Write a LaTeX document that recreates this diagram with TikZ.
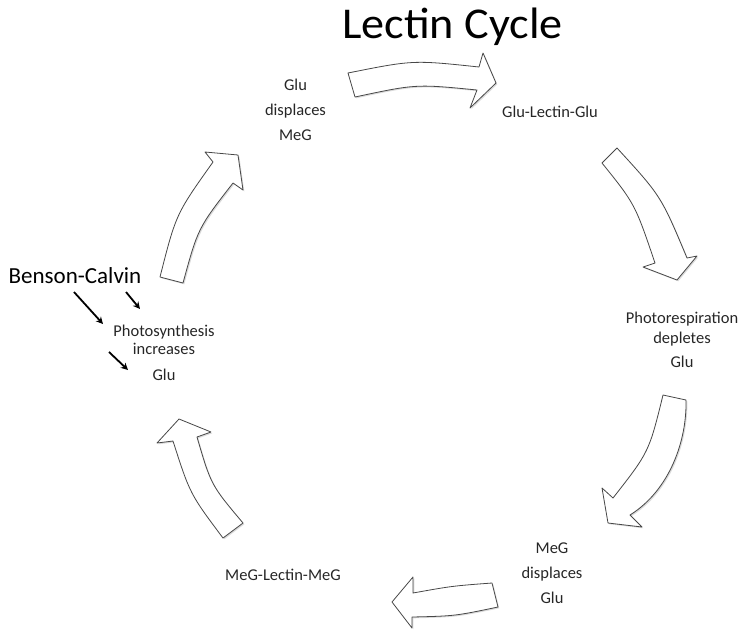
\documentclass[tikz,border=0pt]{standalone}
\usepackage{fontspec}
\setmainfont{Carlito}
\newfontfamily\titlefont[FakeStretch=1.05]{Carlito}
\usetikzlibrary{arrows.meta}
\tikzset{
  blockarrow/.style={draw=black!72, fill=white, line width=0.8pt, line join=round,
    preaction={fill=black!14, transform canvas={xshift=1.3pt,yshift=-1.3pt}}},
  lbl/.style={anchor=base, inner sep=0pt, text=black!85, font=\fontsize{16.5}{19}\selectfont},
  bigarrow/.style={line width=1.8pt, -{Stealth[length=7pt,width=7pt]}}
}
\begin{document}
\begin{tikzpicture}[x=1pt,y=-1pt]
\useasboundingbox (0,0) rectangle (739,633);

% title
\node[anchor=base, inner sep=0pt, font=\titlefont\fontsize{44}{48}\selectfont] (title) at (452.5,38) {Lectin Cycle};

% stage labels
\node[lbl] (gd1) at (295.5,90) {Glu};
\node[lbl] (gd2) at (295.5,115) {displaces};
\node[lbl] (gd3) at (295.5,140) {MeG};

\node[lbl] (glg) at (550,117) {Glu-Lectin-Glu};

\node[lbl] (pr1) at (682,323) {Photorespiration};
\node[lbl] (pr2) at (682,343) {depletes};
\node[lbl] (pr3) at (682,367) {Glu};

\node[lbl] (md1) at (552,553) {MeG};
\node[lbl] (md2) at (552,578) {displaces};
\node[lbl] (md3) at (552,603) {Glu};

\node[lbl] (mlm) at (283,580) {MeG-Lectin-MeG};

\node[lbl] (ps1) at (164,336) {Photosynthesis};
\node[lbl] (ps2) at (164,354) {increases};
\node[lbl] (ps3) at (164,380) {Glu};

\node[anchor=base, inner sep=0pt, font=\fontsize{23}{26}\selectfont] (bc) at (75,283) {Benson-Calvin};

% small black arrows
\coordinate (a1s) at (74,292);  \coordinate (a1e) at (103,324);
\coordinate (a2s) at (126,292); \coordinate (a2e) at (140,309);
\coordinate (a3s) at (109,352); \coordinate (a3e) at (128,370);
\draw[bigarrow] (a1s) -- (a1e);
\draw[bigarrow] (a2s) -- (a2e);
\draw[bigarrow] (a3s) -- (a3e);

% block arrows of the cycle
% 1: top, towards Glu-Lectin-Glu
\path[blockarrow] (348,73) .. controls (413,60) .. (479,67) -- (483,53) -- (496,83) -- (470,108) -- (477,90)
  .. controls (416,84) .. (355,97) -- cycle;
% 2: upper right, towards Photorespiration
\path[blockarrow] (617,148) .. controls (661,196) .. (687,258) -- (697,256) -- (677,280) -- (643,267) -- (655,263)
  .. controls (635,204) .. (602,163) -- cycle;
% 3: lower right, towards MeG displaces Glu
\path[blockarrow] (686,400) .. controls (687,440) and (670,490) .. (630,515) -- (642,527) -- (608,523) -- (602,488) -- (613,498)
  .. controls (649,452) .. (663,395) -- cycle;
% 4: bottom, towards MeG-Lectin-MeG
\path[blockarrow] (492,583) .. controls (452,586) .. (413,593) -- (413,577) -- (392,602) -- (412,628) -- (412,617)
  .. controls (455,616) .. (498,607) -- cycle;
% 5: lower left, towards Photosynthesis
\path[blockarrow] (243,523) .. controls (211,485) .. (197,437) -- (211,432) -- (179,419) -- (157,443) -- (173,441)
  .. controls (190,494) .. (223,538) -- cycle;
% 6: upper left, towards Glu displaces MeG
\path[blockarrow] (160,277) .. controls (176,214) .. (213,162) -- (205,152) -- (238,155) -- (243,190) -- (233,183)
  .. controls (198,228) .. (183,283) -- cycle;
\end{tikzpicture}
\end{document}
